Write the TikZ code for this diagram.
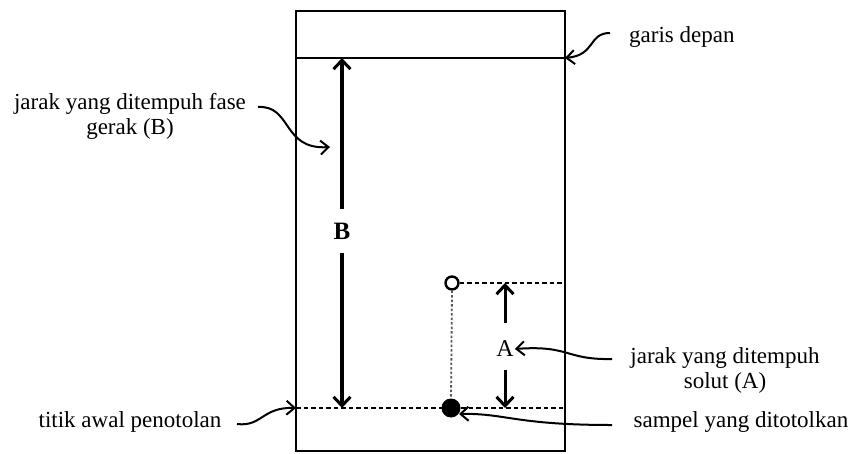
\documentclass[tikz,border=0pt]{standalone}
\usepackage{fontspec}
\setmainfont{Liberation Serif}
\usetikzlibrary{arrows.meta}
\begin{document}
\begin{tikzpicture}[x=1pt,y=-1pt,
  lbl/.style={font=\fontsize{23}{25}\selectfont, inner sep=0pt, align=center},
  pointer/.style={line width=2pt, -{Straight Barb[length=8pt,width=14pt,line width=2pt]}},
  dimarrow/.style={line width=3.4pt, -{Straight Barb[length=9pt,width=17pt,line width=3pt]}},
  frame/.style={line width=1.6pt},
  dashline/.style={line width=1.5pt, dash pattern=on 4.5pt off 3pt},
  dotline/.style={line width=1.8pt, dash pattern=on 2.5pt off 2pt, gray!70!black}]
\useasboundingbox (0,0) rectangle (851,453);
% plate
\draw[frame] (296,11) rectangle (565,451);
\draw[frame] (296,58) -- (565,58);
% key points
\coordinate (front) at (565,58);
\coordinate (startL) at (296,408);
\coordinate (startR) at (565,408);
\coordinate (Btop) at (342,58);
\coordinate (Bbot) at (342,408);
% start line
\draw[dashline] (startL) -- (startR);
% spot
\node[circle, draw, line width=2.4pt, minimum size=13pt, inner sep=0pt, fill=white] (spot) at (452,283) {};
\coordinate (spotR) at (565,283);
\draw[dashline] (spot.east) -- (spotR);
\node[circle, fill=black, minimum size=19pt, inner sep=0pt] (sample) at (451,408) {};
\draw[dotline] (spot.south) -- (sample.north);
% B arrow
\draw[dimarrow, {Straight Barb[length=9pt,width=17pt,line width=3pt]}-{Straight Barb[length=9pt,width=17pt,line width=3pt]}] (Bbot) -- (Btop);
\node[fill=white, inner xsep=5pt, minimum height=44pt, font=\fontsize{25}{27}\selectfont\bfseries] (B) at (342,231) {B};
% A arrows
\node[font=\fontsize{24}{26}\selectfont, inner sep=1pt] (A) at (505,349) {A};
\coordinate (Atop) at (505,283);
\coordinate (Abot) at (505,408);
\draw[dimarrow, line width=3pt] (505,323) -- (Atop);
\draw[dimarrow, line width=3pt] (505,370) -- (Abot);
% labels
\node[lbl, anchor=west] (garis) at (629,37) {garis depan};
\node[lbl] (fase) at (130,116) {jarak yang ditempuh fase\\gerak (B)};
\node[lbl] (titik) at (130,422) {titik awal penotolan};
\node[lbl] (solut) at (725,370) {jarak yang ditempuh\\solut (A)};
\node[lbl] (sampel) at (741,422) {sampel yang ditotolkan};
% pointers
\coordinate (g0) at (610,33);
\draw[pointer] (g0) .. controls (588,33) and (596,55) .. (front);
\coordinate (f0) at (258,107);
\coordinate (f1) at (330,147);
\draw[pointer] (f0) .. controls (292,105) and (282,150) .. (f1);
\coordinate (t0) at (237,424);
\draw[pointer] (t0) .. controls (262,427) and (262,407) .. (startL);
\coordinate (s0) at (612,359);
\draw[pointer] (s0) .. controls (565,360) and (570,345) .. (A.east);
\coordinate (p0) at (612,425);
\coordinate (p1) at (459,414);
\draw[pointer] (p0) .. controls (515,425) and (505,413) .. (p1);
\end{tikzpicture}
\end{document}
